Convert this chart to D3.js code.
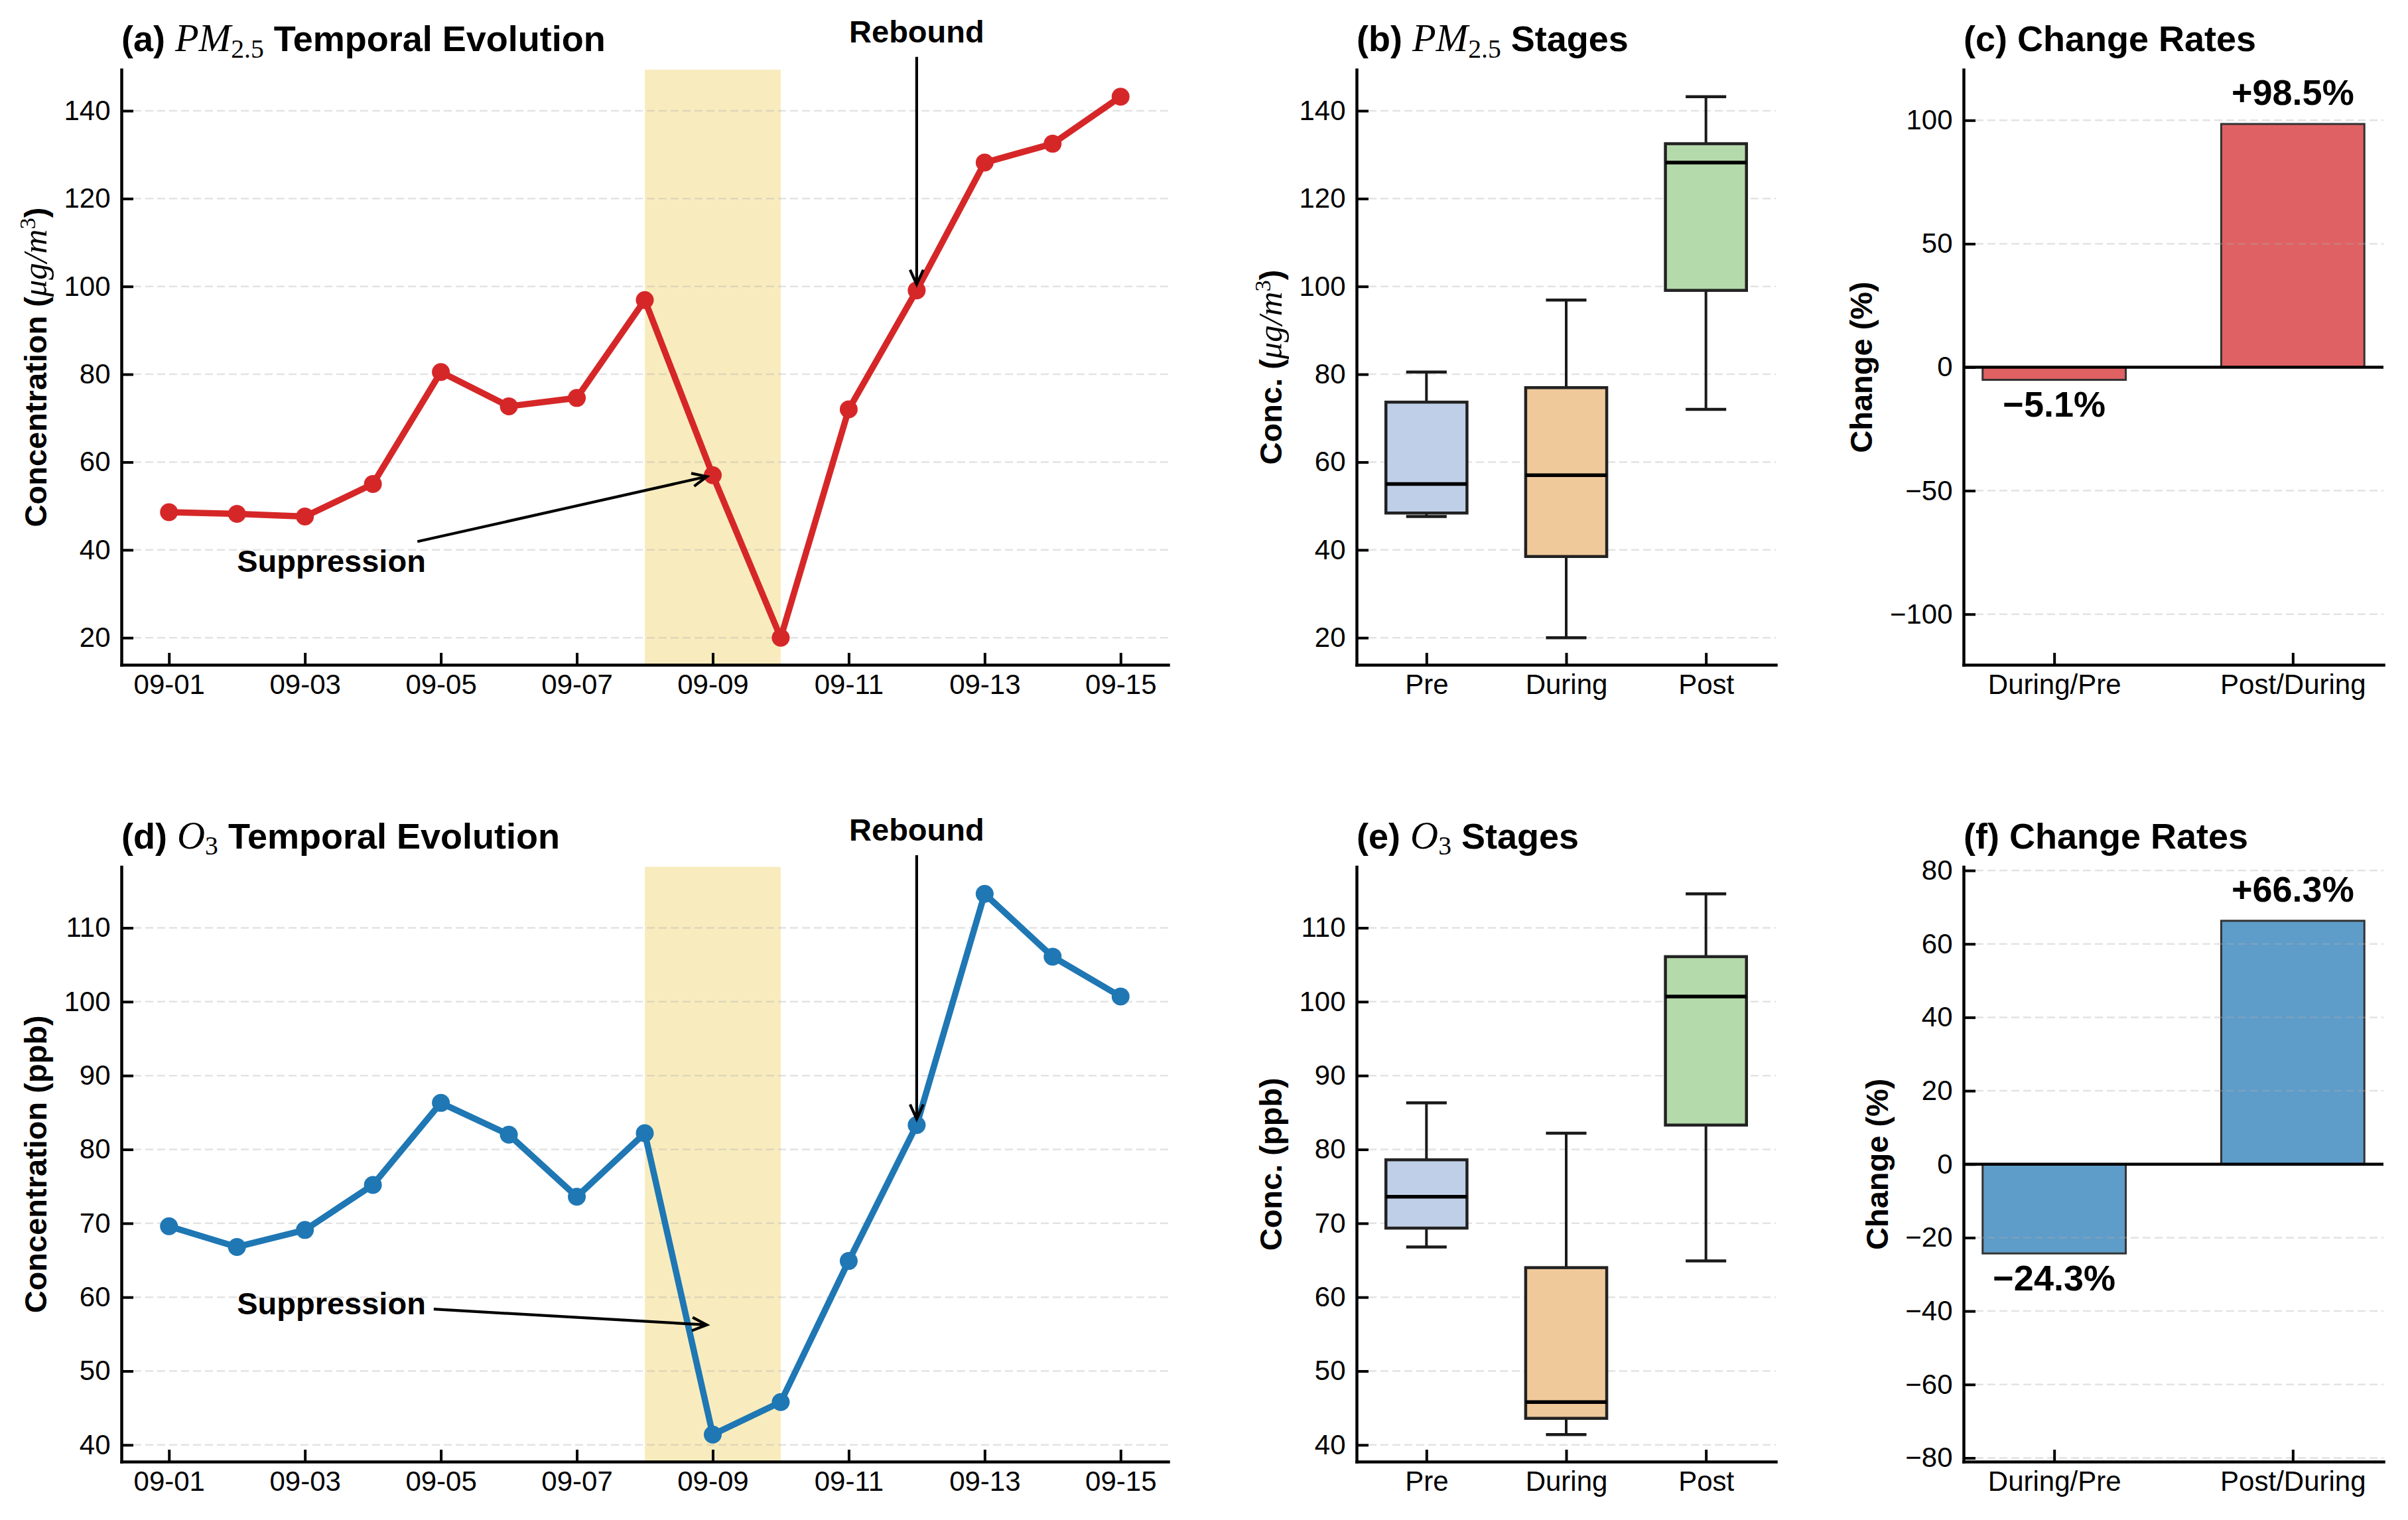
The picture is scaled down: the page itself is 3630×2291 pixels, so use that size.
<!DOCTYPE html>
<html>
<head>
<meta charset="utf-8">
<script src="https://cdn.jsdelivr.net/npm/d3@7"></script>
<style>
  body { margin: 0; background: #fff; }
  svg { display: block; }
</style>
</head>
<body>
<div id="chart"></div>
<script>
// ---- data ----
const dates = ["09-01", "09-02", "09-03", "09-04", "09-05", "09-06", "09-07", "09-08",
  "09-09", "09-10", "09-11", "09-12", "09-13", "09-14", "09-15"];
const pm25 = [48.6, 48.2, 47.6, 55.0, 80.5, 72.7, 74.6, 96.9, 57.0, 20.0, 72.0, 99.1, 128.2, 132.5, 143.2];
const o3 = [69.6, 66.8, 69.1, 75.2, 86.3, 82.0, 73.6, 82.2, 41.4, 45.8, 64.9, 83.3, 114.6, 106.1, 100.7];

const stageNames = ["Pre", "During", "Post"];
const stageStart = [0, 7, 10];
const stageEnd = [7, 10, 15];

const rateLabels = ["During/Pre", "Post/During"];
const pm25Rates = [-5.1, 98.5];
const o3Rates = [-24.3, 66.3];

const shadeFrom = "09-08";
const shadeTo = "09-10";

const pm25Ticks = [20, 40, 60, 80, 100, 120, 140];
const o3Ticks = [40, 50, 60, 70, 80, 90, 100, 110];
const pm25RateTicks = [-100, -50, 0, 50, 100];
const o3RateTicks = [-80, -60, -40, -20, 0, 20, 40, 60, 80];
const pm25RateLimit = 120.5;
const o3RateLimit = 81;

// annotation anchors: [day index, value]
const pm25Notes = { suppText: [1, 35], suppPoint: [8, 57.0], rebText: [11, 155.6], rebPoint: [11, 99.1] };
const o3Notes = { suppText: [1, 57.7], suppPoint: [8, 56.2], rebText: [11, 121.8], rebPoint: [11, 83.3] };

// ---- config ----
const W = 3630, H = 2291;
const rowBox = [{ top: 105, bottom: 1002 }, { top: 1306.5, bottom: 2203 }];
const colBox = [{ left: 183, right: 1761 }, { left: 2045, right: 2677 }, { left: 2960, right: 3593 }];

const sans = "'Liberation Sans', Arial, Helvetica, sans-serif";
const serif = "'Liberation Serif', 'Times New Roman', serif";

const theme = {
  pm: "#d62728",
  o3: "#1f77b4",
  pmBar: "#e06163",
  o3Bar: "#5e9cc9",
  shade: "#f8ecbe",
  stageFill: ["#bfcfe7", "#f0c99b", "#b4d9aa"],
  grid: "#b0b0b0",
  ink: "#000",
};

const svg = d3.select("#chart").append("svg")
  .attr("width", W).attr("height", H)
  .attr("viewBox", [0, 0, W, H])
  .style("background", "#fff")
  .style("font-family", sans);

// rich text: b = bold sans, m = math italic, sub/sup = math scripts
function rich(sel, parts, size) {
  let shift = 0;
  const ms = size * 1.08;
  parts.forEach((p) => {
    const ts = sel.append("tspan").text(p.t);
    if (p.s === "b") ts.attr("font-family", sans).attr("font-weight", "bold").attr("font-size", size);
    if (p.s === "m") ts.attr("font-family", serif).attr("font-style", "italic").attr("font-weight", "normal").attr("font-size", ms);
    if (p.s === "sub" || p.s === "sup") ts.attr("font-family", serif).attr("font-weight", "normal").attr("font-size", ms * 0.68);
    const target = p.s === "sub" ? size * 0.18 : p.s === "sup" ? -size * 0.36 : 0;
    if (target !== shift) {
      ts.attr("dy", target - shift);
      shift = target;
    }
  });
}

function grid(g, y, ticks, L, R) {
  g.append("g").selectAll("line").data(ticks).join("line")
    .attr("x1", L).attr("x2", R)
    .attr("y1", (d) => y(d)).attr("y2", (d) => y(d))
    .attr("stroke", theme.grid).attr("stroke-opacity", 0.35)
    .attr("stroke-width", 2.5).attr("stroke-dasharray", "12,6");
}

function styleAxis(a) {
  a.attr("font-size", 42).attr("font-family", sans);
  a.select(".domain").attr("stroke", theme.ink).attr("stroke-width", 4.5).attr("stroke-linecap", "square");
  a.selectAll(".tick line").attr("stroke", theme.ink).attr("stroke-width", 4);
  a.selectAll(".tick text").attr("fill", theme.ink);
}

function axes(g, x, y, yTicks, xTicks, box) {
  const xa = g.append("g").attr("transform", `translate(0,${box.B})`)
    .call(d3.axisBottom(x).tickValues(xTicks).tickSizeInner(-18).tickSizeOuter(0).tickPadding(14));
  styleAxis(xa);
  const ya = g.append("g").attr("transform", `translate(${box.L},0)`)
    .call(d3.axisLeft(y).tickValues(yTicks).tickFormat(d3.format("d")).tickSizeInner(-18).tickSizeOuter(0).tickPadding(16.5));
  styleAxis(ya);
  return ya;
}

function titleAndLabel(g, ya, box, titleParts, labelParts) {
  const t = g.append("text").attr("x", box.L).attr("y", box.T - 28).attr("fill", theme.ink);
  rich(t, titleParts, 54);
  const bb = ya.node().getBBox();
  const lx = box.L + bb.x - 16.7 - 10;
  const lab = g.append("text")
    .attr("transform", `translate(${lx},${(box.T + box.B) / 2}) rotate(-90)`)
    .attr("text-anchor", "middle").attr("fill", theme.ink);
  rich(lab, labelParts, 47);
}

function annotate(g, label, pos, anchor, target) {
  const t = g.append("text").attr("x", pos[0]).attr("y", pos[1])
    .attr("text-anchor", anchor).attr("font-size", 47).attr("font-weight", "bold")
    .attr("fill", theme.ink).text(label);
  const bb = t.node().getBBox();
  const cx = bb.x + bb.width / 2, cy = bb.y + bb.height / 2;
  const dx = target[0] - cx, dy = target[1] - cy;
  const len = Math.hypot(dx, dy);
  const ux = dx / len, uy = dy / len;
  const sx = dx !== 0 ? bb.width / 2 / Math.abs(dx) : Infinity;
  const sy = dy !== 0 ? bb.height / 2 / Math.abs(dy) : Infinity;
  const s = Math.min(sx, sy);
  const start = [cx + dx * s + ux * 12, cy + dy * s + uy * 12];
  const end = [target[0] - ux * 9, target[1] - uy * 9];
  const hl = 22, hw = 10;
  const nx = -uy, ny = ux;
  const bx = end[0] - ux * hl, by = end[1] - uy * hl;
  const p = d3.path();
  p.moveTo(start[0], start[1]);
  p.lineTo(end[0], end[1]);
  p.moveTo(bx + nx * hw, by + ny * hw);
  p.lineTo(end[0], end[1]);
  p.lineTo(bx - nx * hw, by - ny * hw);
  g.append("path").attr("d", p.toString()).attr("fill", "none")
    .attr("stroke", theme.ink).attr("stroke-width", 4.2)
    .attr("stroke-linejoin", "miter").attr("stroke-linecap", "butt");
}

function paddedDomain(values) {
  const [lo, hi] = d3.extent(values);
  const pad = (hi - lo) * 0.05;
  return [lo - pad, hi + pad];
}

// ---- panel: time series ----
function drawLine(cfg) {
  const box = { L: colBox[0].left, R: colBox[0].right, T: rowBox[cfg.row].top, B: rowBox[cfg.row].bottom };
  const g = svg.append("g");
  const x = d3.scalePoint().domain(dates).range([box.L, box.R]).padding(0.7);
  const y = d3.scaleLinear().domain(paddedDomain(cfg.values)).range([box.B, box.T]);

  g.append("rect")
    .attr("x", x(shadeFrom)).attr("width", x(shadeTo) - x(shadeFrom))
    .attr("y", box.T).attr("height", box.B - box.T)
    .attr("fill", theme.shade);

  grid(g, y, cfg.ticks, box.L, box.R);

  const line = d3.line().x((d, i) => x(dates[i])).y((d) => y(d));
  g.append("path").datum(cfg.values).attr("d", line)
    .attr("fill", "none").attr("stroke", cfg.color).attr("stroke-width", 9.5)
    .attr("stroke-linejoin", "round");
  g.append("g").selectAll("circle").data(cfg.values).join("circle")
    .attr("cx", (d, i) => x(dates[i])).attr("cy", (d) => y(d))
    .attr("r", 13.5).attr("fill", cfg.color);

  const ya = axes(g, x, y, cfg.ticks, dates.filter((d, i) => i % 2 === 0), box);
  titleAndLabel(g, ya, box, cfg.title, cfg.ylabel);

  const n = cfg.notes;
  annotate(g, "Suppression", [x(dates[n.suppText[0]]), y(n.suppText[1])], "start",
    [x(dates[n.suppPoint[0]]), y(n.suppPoint[1])]);
  annotate(g, "Rebound", [x(dates[n.rebText[0]]), y(n.rebText[1])], "middle",
    [x(dates[n.rebPoint[0]]), y(n.rebPoint[1])]);
}

// ---- panel: stage boxplots ----
function drawBox(cfg) {
  const box = { L: colBox[1].left, R: colBox[1].right, T: rowBox[cfg.row].top, B: rowBox[cfg.row].bottom };
  const g = svg.append("g");
  const x = d3.scalePoint().domain(stageNames).range([box.L, box.R]).padding(0.5);
  const y = d3.scaleLinear().domain(paddedDomain(cfg.values)).range([box.B, box.T]);
  const bw = 0.58 * x.step();

  grid(g, y, cfg.ticks, box.L, box.R);

  const stats = stageNames.map((name, i) => {
    const v = cfg.values.slice(stageStart[i], stageEnd[i]).sort(d3.ascending);
    const q1 = d3.quantile(v, 0.25), med = d3.quantile(v, 0.5), q3 = d3.quantile(v, 0.75);
    const iqr = q3 - q1;
    const lo = d3.min(v.filter((d) => d >= q1 - 1.5 * iqr));
    const hi = d3.max(v.filter((d) => d <= q3 + 1.5 * iqr));
    return { name, i, q1, med, q3, lo, hi };
  });

  const items = g.append("g").selectAll("g").data(stats).join("g");
  const stroke = "#1a1a1a";
  items.append("line").attr("x1", (d) => x(d.name)).attr("x2", (d) => x(d.name))
    .attr("y1", (d) => y(d.q1)).attr("y2", (d) => y(d.lo))
    .attr("stroke", stroke).attr("stroke-width", 4);
  items.append("line").attr("x1", (d) => x(d.name)).attr("x2", (d) => x(d.name))
    .attr("y1", (d) => y(d.q3)).attr("y2", (d) => y(d.hi))
    .attr("stroke", stroke).attr("stroke-width", 4);
  items.append("line").attr("x1", (d) => x(d.name) - bw / 4).attr("x2", (d) => x(d.name) + bw / 4)
    .attr("y1", (d) => y(d.lo)).attr("y2", (d) => y(d.lo))
    .attr("stroke", stroke).attr("stroke-width", 4.5);
  items.append("line").attr("x1", (d) => x(d.name) - bw / 4).attr("x2", (d) => x(d.name) + bw / 4)
    .attr("y1", (d) => y(d.hi)).attr("y2", (d) => y(d.hi))
    .attr("stroke", stroke).attr("stroke-width", 4.5);
  items.append("rect").attr("x", (d) => x(d.name) - bw / 2).attr("width", bw)
    .attr("y", (d) => y(d.q3)).attr("height", (d) => y(d.q1) - y(d.q3))
    .attr("fill", (d) => theme.stageFill[d.i])
    .attr("stroke", "#222").attr("stroke-width", 4.5);
  items.append("line").attr("x1", (d) => x(d.name) - bw / 2).attr("x2", (d) => x(d.name) + bw / 2)
    .attr("y1", (d) => y(d.med)).attr("y2", (d) => y(d.med))
    .attr("stroke", "#000").attr("stroke-width", 5.5);

  const ya = axes(g, x, y, cfg.ticks, stageNames, box);
  titleAndLabel(g, ya, box, cfg.title, cfg.ylabel);
}

// ---- panel: change rates ----
function drawRate(cfg) {
  const box = { L: colBox[2].left, R: colBox[2].right, T: rowBox[cfg.row].top, B: rowBox[cfg.row].bottom };
  const g = svg.append("g");
  const x = d3.scalePoint().domain(rateLabels).range([box.L, box.R]).padding(0.38);
  const y = d3.scaleLinear().domain([-cfg.limit, cfg.limit]).range([box.B, box.T]);
  const bw = 0.6 * x.step();
  const rows = rateLabels.map((name, i) => ({ name, v: cfg.values[i] }));

  g.append("g").selectAll("rect").data(rows).join("rect")
    .attr("x", (d) => x(d.name) - bw / 2).attr("width", bw)
    .attr("y", (d) => y(Math.max(0, d.v))).attr("height", (d) => Math.abs(y(d.v) - y(0)))
    .attr("fill", cfg.fill).attr("stroke", "#333").attr("stroke-width", 3);

  grid(g, y, cfg.ticks, box.L, box.R);

  g.append("line").attr("x1", box.L).attr("x2", box.R)
    .attr("y1", y(0)).attr("y2", y(0))
    .attr("stroke", "#000").attr("stroke-width", 4.5);

  const fmt = d3.format("+.1f");
  g.append("g").selectAll("text").data(rows).join("text")
    .attr("x", (d) => x(d.name))
    .attr("y", (d) => (d.v >= 0 ? y(d.v) - 29 : y(d.v) + 56))
    .attr("text-anchor", "middle").attr("font-size", 54).attr("font-weight", "bold")
    .attr("fill", theme.ink)
    .text((d) => fmt(d.v) + "%");

  const ya = axes(g, x, y, cfg.ticks, rateLabels, box);
  titleAndLabel(g, ya, box, cfg.title, cfg.ylabel);
}

function draw() {
  drawLine({
    row: 0, values: pm25, color: theme.pm, ticks: pm25Ticks, notes: pm25Notes,
    title: [{ t: "(a) ", s: "b" }, { t: "PM", s: "m" }, { t: "2.5", s: "sub" }, { t: " Temporal Evolution", s: "b" }],
    ylabel: [{ t: "Concentration (", s: "b" }, { t: "μg/m", s: "m" }, { t: "3", s: "sup" }, { t: ")", s: "b" }],
  });
  drawBox({
    row: 0, values: pm25, ticks: pm25Ticks,
    title: [{ t: "(b) ", s: "b" }, { t: "PM", s: "m" }, { t: "2.5", s: "sub" }, { t: " Stages", s: "b" }],
    ylabel: [{ t: "Conc. (", s: "b" }, { t: "μg/m", s: "m" }, { t: "3", s: "sup" }, { t: ")", s: "b" }],
  });
  drawRate({
    row: 0, values: pm25Rates, fill: theme.pmBar, ticks: pm25RateTicks, limit: pm25RateLimit,
    title: [{ t: "(c) Change Rates", s: "b" }],
    ylabel: [{ t: "Change (%)", s: "b" }],
  });
  drawLine({
    row: 1, values: o3, color: theme.o3, ticks: o3Ticks, notes: o3Notes,
    title: [{ t: "(d) ", s: "b" }, { t: "O", s: "m" }, { t: "3", s: "sub" }, { t: " Temporal Evolution", s: "b" }],
    ylabel: [{ t: "Concentration (ppb)", s: "b" }],
  });
  drawBox({
    row: 1, values: o3, ticks: o3Ticks,
    title: [{ t: "(e) ", s: "b" }, { t: "O", s: "m" }, { t: "3", s: "sub" }, { t: " Stages", s: "b" }],
    ylabel: [{ t: "Conc. (ppb)", s: "b" }],
  });
  drawRate({
    row: 1, values: o3Rates, fill: theme.o3Bar, ticks: o3RateTicks, limit: o3RateLimit,
    title: [{ t: "(f) Change Rates", s: "b" }],
    ylabel: [{ t: "Change (%)", s: "b" }],
  });
}

if (document.fonts && document.fonts.ready) {
  document.fonts.ready.then(draw);
} else {
  draw();
}
</script>
</body>
</html>
